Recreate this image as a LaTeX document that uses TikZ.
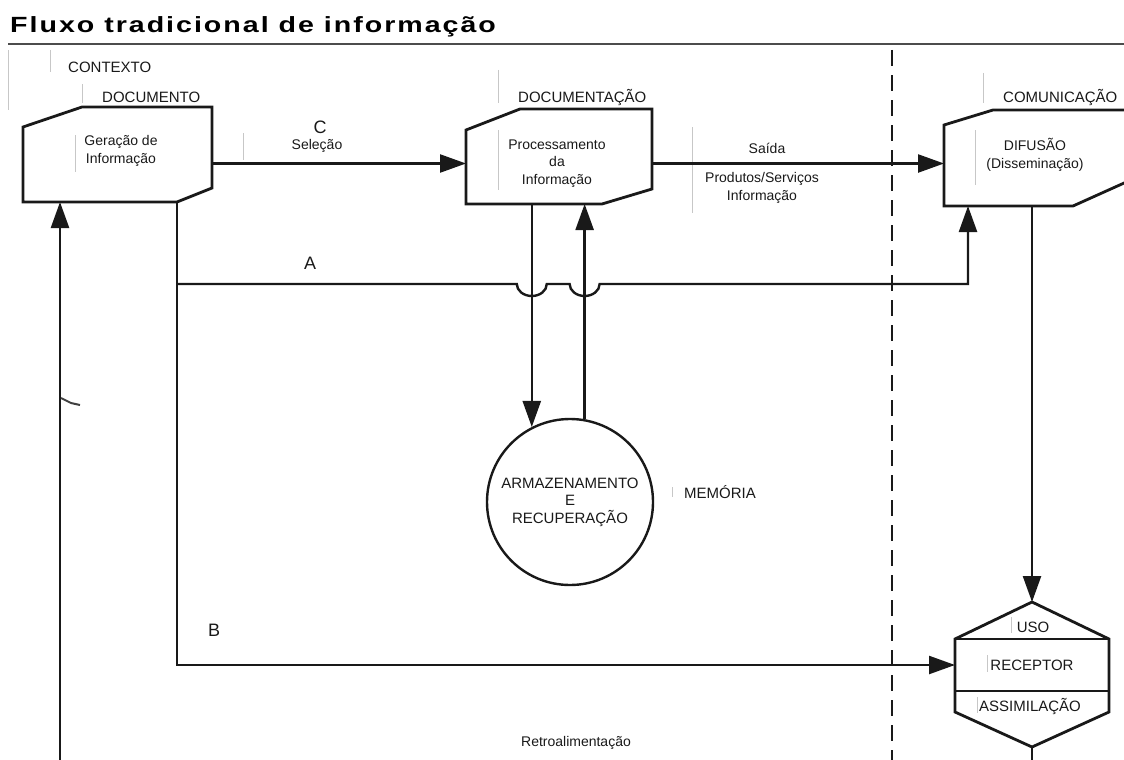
\documentclass[tikz,border=0pt]{standalone}
\usepackage{fontspec}
\setmainfont{Liberation Sans}
\newfontfamily\titlefont[FakeStretch=1.3,LetterSpace=9]{Liberation Sans}
\usetikzlibrary{arrows.meta,calc}

% box with the top left and bottom right corners cut off
\newcommand{\drawcutbox}[5]{%
  \draw[main box] ($(#1.north west)+(#2,0)$) -- (#1.north east)
    -- ($(#1.south east)+(0,-#5)$) -- ($(#1.south east)+(-#4,0)$)
    -- (#1.south west) -- ($(#1.north west)+(0,#3)$) -- cycle;}

\tikzset{
  box area/.style={rectangle,inner sep=0pt,outer sep=0pt},
  main box/.style={line width=2.8pt,line join=miter,black!90},
  flow line/.style={line width=2.4pt,black!90,-{Triangle[length=26pt,width=18pt]}},
  plain line/.style={line width=2.4pt,black!90},
  dash line/.style={line width=2.6pt,black!90,dash pattern=on 16pt off 9pt},
  small text/.style={font=\fontsize{14}{17.5}\selectfont,align=center,inner sep=0pt,text=black!90},
  caps text/.style={font=\fontsize{15}{17.5}\selectfont,align=center,inner sep=0pt,text=black!90},
  big letter/.style={font=\fontsize{18}{20}\selectfont,inner sep=0pt,text=black!90},
  scan mark/.style={draw=black!22,line width=0.8pt}
}

\begin{document}
\begin{tikzpicture}[x=1pt,y=-1pt]
  \useasboundingbox (0,0) rectangle (1124,760);
  \clip (0,0) rectangle (1124,760);

  % title
  \node[anchor=base west,inner sep=0pt,font=\titlefont\bfseries\fontsize{22}{26}\selectfont] (title) at (10,33) {Fluxo tradicional de informação};
  \draw[line width=2pt,black!70] (8,44) -- (1124,44);

  % faint marks of the scan
  \foreach \x/\ya/\yb in {8/50/110, 50/50/72, 82/84/103, 75/135/172, 243/133/160,
      498/70/103, 498/130/190, 692/127/213, 983/73/103, 975/130/185,
      1011/617/633, 987/655/672, 977/697/713, 672/487/497}
    \draw[scan mark] (\x,\ya) -- (\x,\yb);

  % boxes
  \node[box area,minimum width=189pt,minimum height=95pt] (gera) at (117.5,154.5) {};
  \node[box area,minimum width=186pt,minimum height=95pt] (proc) at (559,156.5) {};
  \node[box area,minimum width=189pt,minimum height=96pt] (difu) at (1038.5,158) {};
  \drawcutbox{gera}{59}{20}{35}{14}
  \drawcutbox{proc}{54}{21}{50}{15}
  \drawcutbox{difu}{49}{15}{60}{27}

  \node[small text] (gera txt) at (121,151) {Geração de\\Informação};
  \node[small text] (proc txt) at (557,163.5) {Processamento\\da\\Informação};
  \node[small text] (difu txt) at (1035,155) {DIFUSÃO\\(Disseminação)};

  \node[caps text,anchor=base west] (contexto) at (68,72) {CONTEXTO};
  \node[caps text,anchor=base west] (documento) at (102,102) {DOCUMENTO};
  \node[caps text,anchor=base west] (documentacao) at (518,102) {DOCUMENTAÇÃO};
  \node[caps text,anchor=base west] (comunicacao) at (1003,102) {COMUNICAÇÃO};

  % memory
  \node[circle,draw,line width=2.4pt,black!90,minimum size=166pt,inner sep=0pt,
        font=\fontsize{15}{17.5}\selectfont,align=center] (arm) at (570,502) {ARMAZENAMENTO\\E\\RECUPERAÇÃO};
  \node[caps text,anchor=base west] (memoria) at (684,498) {MEMÓRIA};

  % receiver
  \node[box area,caps text,minimum width=154pt,minimum height=52pt] (recep) at (1032,665) {RECEPTOR};
  \coordinate (usoTop) at ($(recep.north)+(0,-37)$);
  \coordinate (assBot) at ($(recep.south)+(0,56)$);
  \draw[main box] (recep.north west) -- (usoTop) -- (recep.north east)
    -- ($(recep.south east)+(0,21)$) -- (assBot) -- ($(recep.south west)+(0,21)$) -- cycle;
  \draw[main box] (recep.north west) -- (recep.north east)
    (recep.south west) -- (recep.south east);
  \node[caps text] (uso) at (1033,627) {USO};
  \node[caps text] (assim) at (1030,706) {ASSIMILAÇÃO};

  % separation line
  \draw[dash line] (892,50) -- (892,775);

  % flows
  \coordinate (split) at ($(gera.south east)+(-35,0)$);
  \coordinate (rowA) at (0,284);
  \coordinate (aIn) at ($(difu.south west)+(24,0)$);
  \coordinate (fbBottom) at (60,775);

  \draw[flow line] (gera.east |- proc txt) -- (proc.west |- proc txt);
  \draw[flow line] (proc.east |- proc txt) -- (difu.west |- proc txt);
  \draw[flow line] (split |- rowA) -- ($(arm.117 |- rowA)+(-15,0)$)
    arc[start angle=180,end angle=0,x radius=15,y radius=12]
    -- ($(arm.80 |- rowA)+(-15,0)$)
    arc[start angle=180,end angle=0,x radius=15,y radius=12]
    -- (aIn |- rowA) -- (aIn);
  \draw[flow line] (split) |- (recep.west);
  \draw[flow line] (arm.117 |- proc.south) -- (arm.117);
  \draw[flow line] (arm.80) -- (arm.80 |- proc.south);
  \draw[flow line] (usoTop |- difu.south) -- (usoTop);
  \draw[plain line] (assBot) -- (assBot |- fbBottom);
  \draw[flow line] (fbBottom) -- (fbBottom |- gera.south);
  \draw[line width=2pt,black!75] (61,398) -- (71,403) -- (80,405);

  % labels of the flows
  \node[big letter] (C) at (320,127) {C};
  \node[small text] (selecao) at (317,146) {Seleção};
  \node[small text] (saida) at (767,148) {Saída};
  \node[small text] (produtos) at (762,188) {Produtos/Serviços\\Informação};
  \node[big letter] (A) at (310,263) {A};
  \node[big letter] (B) at (214,630) {B};
  \node[small text] (retro) at (576,743) {Retroalimentação};
\end{tikzpicture}
\end{document}
